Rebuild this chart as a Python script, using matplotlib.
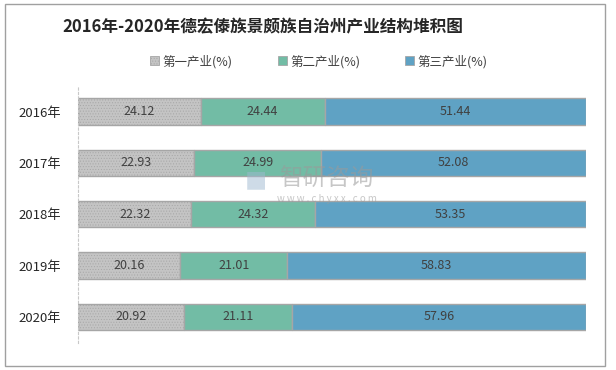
import matplotlib
matplotlib.use("Agg")
import matplotlib.pyplot as plt
from matplotlib.patches import Rectangle, Patch
import numpy as np

plt.rcParams['font.family'] = ['Noto Sans CJK SC', 'DejaVu Sans']
plt.rcParams['hatch.linewidth'] = 0.4

years = ['2016年', '2017年', '2018年', '2019年', '2020年']
primary = [24.12, 22.93, 22.32, 20.16, 20.92]
secondary = [24.44, 24.99, 24.32, 21.01, 21.11]
tertiary = [51.44, 52.08, 53.35, 58.83, 57.96]
series_names = ['第一产业(%)', '第二产业(%)', '第三产业(%)']
colors = ['#c4c4c4', '#72bca5', '#5fa2c4']

fig = plt.figure(figsize=(6.16, 3.70), dpi=100)
ax = fig.add_axes([0.1266, 0.074, 0.8247, 0.694])

y = np.arange(len(years))
left = np.zeros(len(years))
for i, vals in enumerate([primary, secondary, tertiary]):
    vals = np.array(vals)
    ax.barh(y, vals, left=left, height=0.51, color=colors[i],
            edgecolor='#a6a6a6', linewidth=1.0,
            hatch='......' if i == 0 else None)
    for yy, l, v in zip(y, left, vals):
        ax.text(l + v / 2, yy, f'{v:.2f}', ha='center', va='center',
                fontsize=9, color='#404040')
    left = left + vals

ax.set_xlim(0, 100)
ax.set_ylim(4.5, -0.5)
ax.set_yticks(y)
ax.set_yticklabels(years, fontsize=9.5, color='#262626')
ax.tick_params(axis='y', length=0, pad=12)
ax.set_xticks([])
for s in ['top', 'right', 'bottom']:
    ax.spines[s].set_visible(False)
ax.spines['left'].set_color('#c8c8c8')
ax.spines['left'].set_linestyle((0, (2, 2)))
ax.spines['left'].set_linewidth(0.8)

# title
fig.text(0.427, 0.927, '2016年-2020年德宏傣族景颇族自治州产业结构堆积图',
         ha='center', va='center', fontsize=12, fontweight='bold',
         color='#262626')

# legend
handles = [Patch(facecolor=c, edgecolor='#a6a6a6', linewidth=0.6,
                 hatch='......' if i == 0 else None)
           for i, c in enumerate(colors)]
fig.legend(handles, series_names, loc='center', bbox_to_anchor=(0.518, 0.834),
           ncol=3, frameon=False, fontsize=9, handlelength=0.7,
           handleheight=0.7, handletextpad=0.3, columnspacing=3.6,
           labelcolor='#404040')

# watermark
fig.text(0.53, 0.515, '智研咨询', ha='center', va='center', fontsize=17,
         color='#9a9a9a', alpha=0.55)
fig.text(0.53, 0.462, 'w w w . c h y x x . c o m', ha='center', va='center',
         fontsize=7, color='#9a9a9a', alpha=0.55)
fig.text(0.415, 0.51, '■', ha='center', va='center', fontsize=16,
         color='#9fb9d0', alpha=0.5)

# outer frame
fig.patches.append(Rectangle((5 / 616, 4 / 370), 600 / 616, 362 / 370,
                             transform=fig.transFigure, fill=False,
                             edgecolor='#a0a0a0', linewidth=1.0))

fig.savefig('out.png', dpi=100)
